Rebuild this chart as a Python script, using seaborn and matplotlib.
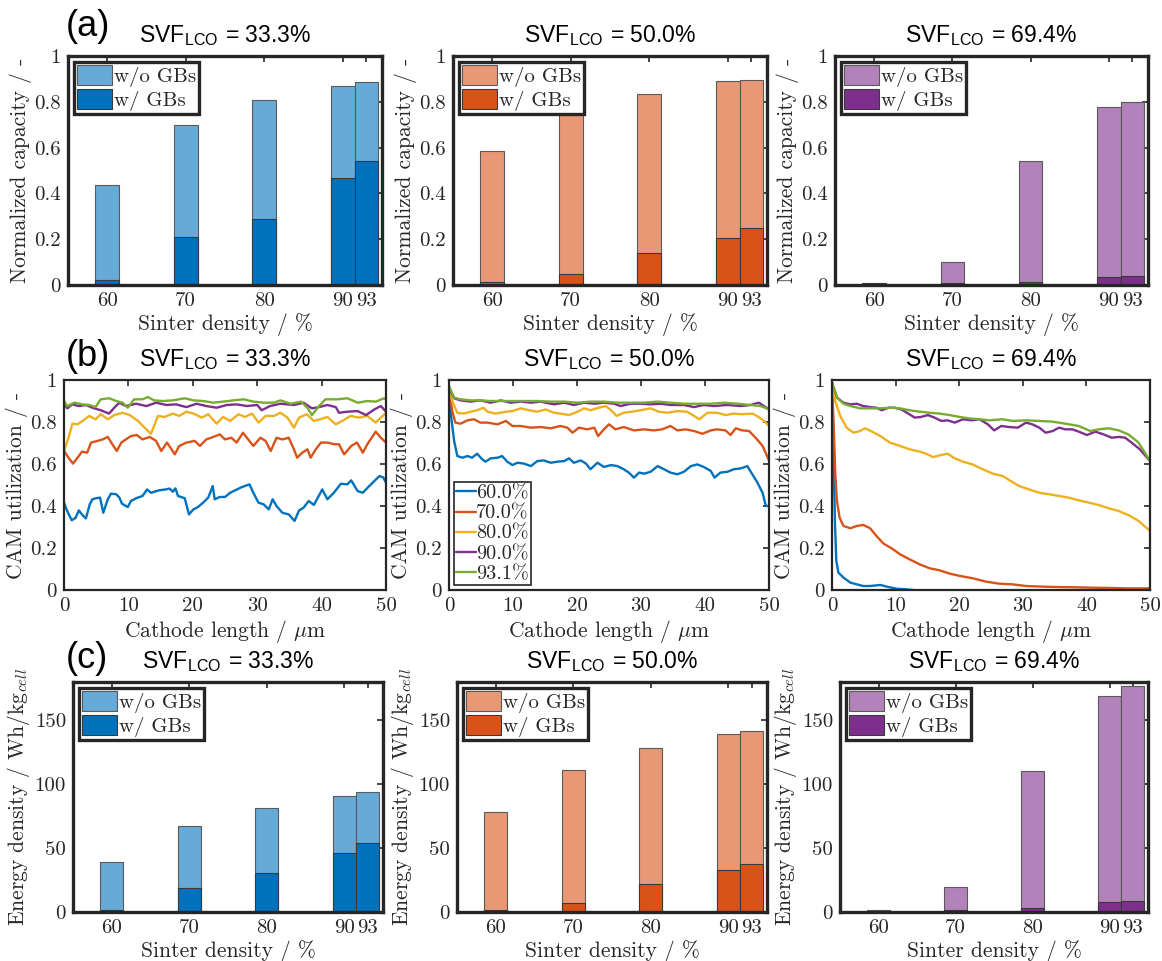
import matplotlib
matplotlib.use('Agg')
import matplotlib.pyplot as plt
import seaborn as sns
from matplotlib.patches import Patch
from matplotlib.lines import Line2D

# ---------------- data ----------------
sinter = [60, 70, 80, 90, 93]
sinter_labels = ['60', '70', '80', '90', '93']

cap_wo_333 = [0.437, 0.698, 0.810, 0.870, 0.885]
cap_w_333 = [0.024, 0.208, 0.288, 0.466, 0.540]
cap_wo_500 = [0.587, 0.762, 0.836, 0.889, 0.895]
cap_w_500 = [0.015, 0.048, 0.140, 0.206, 0.250]
cap_wo_694 = [0.005, 0.101, 0.542, 0.777, 0.801]
cap_w_694 = [0.009, 0.009, 0.015, 0.036, 0.041]

en_wo_333 = [39.0, 67.0, 81.7, 91.0, 93.6]
en_w_333 = [1.8, 18.5, 30.3, 46.4, 54.0]
en_wo_500 = [78.3, 111.0, 128.0, 139.5, 142.0]
en_w_500 = [1.8, 6.9, 21.6, 33.2, 37.2]
en_wo_694 = [1.6, 19.2, 110.2, 168.7, 176.7]
en_w_694 = [1.0, 1.8, 2.9, 7.6, 8.7]

svf_titles = ['33.3%', '50.0%', '69.4%']
line_labels = ['60.0%', '70.0%', '80.0%', '90.0%', '93.1%']

# CAM utilization profiles (x in um, y in -)
u333_x60 = [0, 0.5, 1.2, 1.8, 2.3, 3.0, 3.4, 4.0, 4.4, 5.0, 5.6, 6.1, 6.8, 7.3, 8.1, 8.6, 9.0, 9.9, 10.4, 11.2, 12.2, 12.9, 13.5, 14.8, 15.8, 16.4, 16.9, 17.3, 17.7, 18.75, 19.4, 20.1, 20.8, 21.6, 22.4, 23.1, 23.4, 24.2, 25.0, 25.8, 26.6, 27.6, 28.8, 29.4, 30.2, 31.0, 31.8, 32.4, 33.0, 33.9, 34.9, 35.8, 36.5, 37.2, 38.0, 38.8, 40.1, 40.9, 41.9, 43.0, 44.0, 44.6, 45.6, 46.4, 47.4, 48.2, 49.0, 49.6, 50.0]
u333_y60 = [0.416, 0.376, 0.332, 0.344, 0.379, 0.352, 0.341, 0.408, 0.432, 0.437, 0.440, 0.368, 0.432, 0.459, 0.456, 0.440, 0.411, 0.395, 0.424, 0.437, 0.448, 0.479, 0.463, 0.475, 0.479, 0.483, 0.468, 0.484, 0.448, 0.437, 0.360, 0.384, 0.395, 0.416, 0.440, 0.495, 0.432, 0.443, 0.443, 0.463, 0.475, 0.490, 0.503, 0.463, 0.416, 0.408, 0.384, 0.432, 0.400, 0.368, 0.360, 0.329, 0.379, 0.392, 0.424, 0.405, 0.479, 0.432, 0.463, 0.506, 0.503, 0.522, 0.471, 0.463, 0.495, 0.519, 0.543, 0.535, 0.511]
u333_x70 = [0, 0.7, 1.4, 2.1, 2.8, 3.6, 4.2, 5.2, 6.0, 6.8, 7.5, 8.2, 8.9, 9.6, 10.4, 11.3, 12.2, 13.3, 14.3, 15.1, 16.0, 16.7, 17.2, 17.9, 19.0, 20.3, 21.1, 22.1, 23.2, 24.2, 25.0, 26.0, 26.8, 27.8, 28.6, 29.4, 30.5, 31.3, 32.1, 33.0, 33.9, 34.9, 35.7, 36.2, 37.0, 37.8, 38.3, 39.1, 39.9, 40.9, 42.0, 42.7, 43.5, 44.6, 45.5, 46.4, 47.1, 48.4, 49.2, 50.0]
u333_y70 = [0.662, 0.630, 0.602, 0.630, 0.659, 0.654, 0.702, 0.710, 0.717, 0.729, 0.694, 0.662, 0.702, 0.717, 0.733, 0.738, 0.717, 0.729, 0.710, 0.662, 0.702, 0.670, 0.646, 0.686, 0.702, 0.710, 0.686, 0.717, 0.729, 0.741, 0.717, 0.725, 0.702, 0.749, 0.717, 0.686, 0.725, 0.710, 0.662, 0.725, 0.717, 0.725, 0.670, 0.630, 0.654, 0.670, 0.630, 0.670, 0.702, 0.702, 0.694, 0.694, 0.646, 0.686, 0.702, 0.654, 0.694, 0.754, 0.725, 0.702]
u333_x80 = [0, 0.7, 1.3, 2.1, 2.9, 3.9, 4.9, 5.7, 6.8, 7.8, 9.1, 10.2, 11.5, 12.5, 13.5, 14.6, 15.6, 16.9, 17.9, 19.0, 20.1, 21.4, 22.4, 23.7, 24.7, 25.8, 27.1, 28.1, 29.2, 30.2, 31.3, 32.6, 33.6, 34.7, 35.7, 36.5, 37.7, 38.8, 39.8, 40.9, 42.2, 43.2, 44.5, 45.8, 47.1, 48.4, 50.0]
u333_y80 = [0.662, 0.725, 0.792, 0.789, 0.805, 0.829, 0.813, 0.837, 0.813, 0.833, 0.844, 0.833, 0.805, 0.773, 0.744, 0.829, 0.824, 0.840, 0.829, 0.849, 0.840, 0.821, 0.837, 0.792, 0.824, 0.805, 0.837, 0.824, 0.840, 0.797, 0.829, 0.829, 0.844, 0.821, 0.773, 0.821, 0.837, 0.805, 0.813, 0.824, 0.789, 0.805, 0.829, 0.821, 0.829, 0.797, 0.844]
u333_x90 = [0, 0.5, 1.3, 2.3, 3.4, 4.4, 5.7, 7.0, 7.8, 8.6, 9.6, 11.2, 12.8, 14.3, 15.9, 17.4, 19.0, 20.6, 22.1, 23.7, 25.3, 26.8, 28.4, 30.0, 30.7, 32.0, 33.6, 35.7, 37.2, 38.5, 39.6, 40.9, 42.2, 42.7, 44.0, 45.6, 46.9, 48.2, 49.2, 50.0]
u333_y90 = [0.887, 0.865, 0.884, 0.876, 0.881, 0.868, 0.856, 0.840, 0.868, 0.892, 0.876, 0.887, 0.876, 0.892, 0.881, 0.884, 0.871, 0.887, 0.876, 0.868, 0.881, 0.884, 0.876, 0.881, 0.856, 0.876, 0.887, 0.881, 0.892, 0.865, 0.871, 0.881, 0.871, 0.844, 0.849, 0.852, 0.833, 0.860, 0.876, 0.849]
u333_x93 = [0, 0.5, 1.6, 2.9, 3.9, 4.9, 5.7, 7.0, 8.1, 9.1, 9.9, 10.9, 12.2, 13.0, 14.0, 15.4, 16.9, 18.75, 20.1, 21.6, 23.2, 24.7, 26.3, 27.9, 29.4, 31.0, 32.6, 33.6, 35.2, 36.8, 37.8, 38.5, 39.6, 40.6, 42.4, 44.0, 45.6, 47.1, 48.4, 49.7, 50.0]
u333_y93 = [0.900, 0.876, 0.892, 0.884, 0.881, 0.871, 0.908, 0.913, 0.900, 0.892, 0.868, 0.908, 0.908, 0.919, 0.903, 0.900, 0.903, 0.913, 0.903, 0.900, 0.892, 0.897, 0.903, 0.908, 0.897, 0.892, 0.892, 0.903, 0.887, 0.897, 0.868, 0.833, 0.876, 0.908, 0.908, 0.913, 0.892, 0.900, 0.897, 0.913, 0.908]

u500_x60 = [0, 0.36, 0.8, 1.3, 2.1, 2.9, 3.6, 4.4, 5.2, 5.7, 6.5, 7.6, 8.3, 9.1, 9.9, 10.7, 11.7, 12.8, 13.8, 14.8, 15.9, 16.9, 18.0, 18.75, 19.5, 20.6, 21.4, 22.1, 23.2, 24.2, 25.3, 26.3, 27.3, 28.1, 28.9, 29.7, 30.5, 31.5, 32.6, 33.6, 34.6, 35.7, 36.7, 37.8, 38.8, 39.8, 40.9, 41.5, 42.4, 43.5, 44.5, 45.6, 46.6, 47.4, 48.2, 49.0, 49.5, 50.0]
u500_y60 = [0.963, 0.820, 0.710, 0.638, 0.630, 0.638, 0.630, 0.649, 0.622, 0.611, 0.627, 0.630, 0.638, 0.611, 0.595, 0.606, 0.602, 0.590, 0.614, 0.617, 0.606, 0.611, 0.614, 0.627, 0.606, 0.617, 0.602, 0.575, 0.606, 0.586, 0.595, 0.590, 0.575, 0.559, 0.535, 0.559, 0.554, 0.563, 0.590, 0.575, 0.559, 0.551, 0.563, 0.590, 0.598, 0.586, 0.567, 0.535, 0.559, 0.563, 0.575, 0.579, 0.590, 0.551, 0.511, 0.463, 0.400, 0.400]
u500_x70 = [0, 0.5, 1.0, 1.8, 2.9, 3.9, 4.9, 6.0, 7.6, 8.9, 9.9, 11.2, 12.8, 14.3, 15.9, 17.4, 18.5, 19.3, 20.3, 21.6, 22.7, 23.3, 24.2, 25.0, 26.0, 27.3, 28.9, 30.5, 32.0, 33.3, 34.6, 35.7, 37.0, 38.3, 39.6, 40.9, 41.9, 43.2, 44.0, 44.8, 45.8, 46.9, 47.9, 49.0, 50.0]
u500_y70 = [0.963, 0.852, 0.797, 0.792, 0.808, 0.813, 0.797, 0.797, 0.789, 0.805, 0.781, 0.781, 0.773, 0.776, 0.770, 0.781, 0.773, 0.749, 0.773, 0.765, 0.773, 0.733, 0.765, 0.789, 0.765, 0.776, 0.760, 0.765, 0.760, 0.765, 0.781, 0.760, 0.765, 0.757, 0.744, 0.760, 0.765, 0.760, 0.738, 0.770, 0.760, 0.757, 0.725, 0.686, 0.617]
u500_x80 = [0, 0.5, 1.3, 2.3, 3.4, 4.4, 5.4, 6.0, 7.3, 8.9, 9.9, 11.2, 12.5, 13.8, 15.1, 16.4, 17.4, 18.75, 20.1, 21.1, 22.1, 23.4, 24.5, 25.3, 26.2, 27.3, 28.6, 29.9, 31.5, 32.8, 34.1, 35.7, 37.2, 38.3, 39.1, 40.4, 41.9, 43.2, 44.5, 45.8, 47.4, 48.4, 49.2, 50.0]
u500_y80 = [0.963, 0.900, 0.844, 0.840, 0.849, 0.856, 0.868, 0.849, 0.840, 0.849, 0.852, 0.865, 0.856, 0.849, 0.860, 0.844, 0.840, 0.833, 0.849, 0.865, 0.856, 0.868, 0.876, 0.856, 0.829, 0.844, 0.849, 0.856, 0.865, 0.849, 0.844, 0.852, 0.849, 0.829, 0.813, 0.844, 0.844, 0.833, 0.840, 0.837, 0.840, 0.824, 0.805, 0.781]
u500_x90 = [0, 0.8, 1.8, 3.4, 4.9, 6.5, 8.1, 9.6, 11.2, 12.8, 14.3, 16.4, 18.0, 19.5, 21.1, 22.7, 24.2, 25.8, 26.8, 28.4, 29.9, 31.5, 33.1, 34.6, 36.7, 38.3, 39.8, 41.4, 43.5, 45.6, 47.1, 48.4, 49.2, 50.0]
u500_y90 = [0.963, 0.913, 0.903, 0.897, 0.903, 0.892, 0.903, 0.892, 0.897, 0.892, 0.897, 0.884, 0.892, 0.881, 0.892, 0.887, 0.892, 0.887, 0.876, 0.887, 0.887, 0.884, 0.887, 0.881, 0.881, 0.871, 0.881, 0.876, 0.881, 0.876, 0.881, 0.892, 0.876, 0.860]
u500_x93 = [0, 0.8, 1.8, 3.4, 4.9, 6.5, 8.1, 9.6, 11.7, 13.8, 15.9, 18.0, 20.1, 22.1, 24.2, 26.3, 28.4, 30.5, 32.6, 34.6, 36.7, 38.8, 40.9, 43.0, 45.1, 47.1, 48.7, 50.0]
u500_y93 = [0.971, 0.916, 0.908, 0.903, 0.903, 0.900, 0.900, 0.900, 0.900, 0.900, 0.897, 0.897, 0.892, 0.897, 0.897, 0.892, 0.892, 0.892, 0.897, 0.892, 0.887, 0.887, 0.887, 0.892, 0.887, 0.881, 0.876, 0.860]

u694_x60 = [0, 0.26, 0.47, 0.68, 1.0, 1.8, 2.9, 3.9, 4.9, 6.0, 7.6, 8.9, 10.2, 11.7, 12.8]
u694_y60 = [0.987, 0.630, 0.313, 0.138, 0.083, 0.059, 0.035, 0.027, 0.019, 0.019, 0.024, 0.014, 0.006, 0.003, 0.000]
u694_x70 = [0, 0.26, 0.52, 0.78, 1.2, 1.8, 2.9, 3.9, 4.9, 6.0, 7.0, 8.1, 9.4, 10.7, 12.2, 13.8, 15.4, 16.9, 18.5, 20.1, 22.1, 24.2, 26.3, 28.4, 30.5, 33.1, 35.7, 38.3, 40.9, 43.5, 46.1, 50.0]
u694_y70 = [0.987, 0.789, 0.551, 0.424, 0.344, 0.305, 0.294, 0.305, 0.310, 0.294, 0.257, 0.221, 0.198, 0.170, 0.146, 0.122, 0.103, 0.094, 0.078, 0.067, 0.056, 0.040, 0.030, 0.027, 0.019, 0.016, 0.014, 0.013, 0.011, 0.010, 0.008, 0.008]
u694_x80 = [0, 0.5, 1.3, 2.3, 3.4, 4.4, 5.2, 6.3, 7.6, 9.1, 10.7, 12.2, 13.8, 14.8, 15.9, 17.2, 18.2, 19.3, 20.6, 22.1, 23.7, 25.3, 26.8, 28.1, 29.4, 31.0, 32.6, 34.1, 35.7, 37.2, 38.8, 40.4, 41.9, 43.5, 45.1, 46.6, 48.2, 50.0]
u694_y80 = [0.987, 0.900, 0.829, 0.773, 0.749, 0.757, 0.770, 0.754, 0.733, 0.702, 0.686, 0.670, 0.659, 0.649, 0.633, 0.643, 0.649, 0.627, 0.611, 0.598, 0.575, 0.554, 0.543, 0.519, 0.495, 0.479, 0.463, 0.456, 0.448, 0.440, 0.427, 0.416, 0.405, 0.389, 0.376, 0.357, 0.329, 0.281]
u694_x90 = [0, 0.8, 1.8, 2.9, 3.9, 4.9, 6.0, 7.0, 7.8, 8.9, 9.9, 10.9, 12.0, 13.0, 14.0, 15.1, 16.1, 17.2, 18.2, 19.3, 20.6, 21.9, 23.2, 24.5, 25.5, 26.6, 27.9, 29.2, 30.5, 31.5, 32.6, 33.6, 34.7, 35.7, 36.7, 37.8, 38.8, 40.1, 41.4, 42.7, 44.0, 45.1, 46.1, 47.1, 48.4, 50.0]
u694_y90 = [0.987, 0.916, 0.892, 0.884, 0.887, 0.876, 0.871, 0.868, 0.856, 0.868, 0.868, 0.860, 0.840, 0.821, 0.824, 0.833, 0.821, 0.805, 0.808, 0.797, 0.813, 0.808, 0.813, 0.789, 0.760, 0.781, 0.776, 0.773, 0.797, 0.789, 0.773, 0.749, 0.757, 0.773, 0.765, 0.765, 0.754, 0.738, 0.754, 0.741, 0.725, 0.729, 0.725, 0.702, 0.670, 0.614]
u694_x93 = [0, 0.8, 1.8, 2.9, 4.4, 6.0, 7.6, 9.1, 10.7, 12.2, 13.8, 15.4, 16.9, 18.5, 20.1, 21.6, 23.2, 24.7, 26.8, 28.4, 30.5, 32.6, 34.6, 36.7, 38.8, 40.6, 41.9, 43.5, 45.1, 46.6, 48.2, 50.0]
u694_y93 = [0.987, 0.916, 0.887, 0.876, 0.865, 0.865, 0.865, 0.868, 0.865, 0.856, 0.849, 0.844, 0.840, 0.833, 0.824, 0.817, 0.813, 0.808, 0.813, 0.805, 0.808, 0.805, 0.802, 0.792, 0.781, 0.757, 0.765, 0.770, 0.760, 0.741, 0.702, 0.614]

# ---------------- style ----------------
sns.set_theme(style='white')
plt.rcParams['font.family'] = ['cmr10', 'DejaVu Serif']
plt.rcParams['mathtext.fontset'] = 'cm'
plt.rcParams['axes.formatter.use_mathtext'] = True
plt.rcParams['axes.unicode_minus'] = False

TXT = '#262626'
SANS = ['Liberation Sans', 'DejaVu Sans']
dark_cols = ['#0072BD', '#D95319', '#7E2F8E']
light_cols = ['#66AAD7', '#E89875', '#B282BB']
line_cols = ['#0072BD', '#D95319', '#EDB120', '#7E2F8E', '#77AC30']

W, H = 1162, 961
fig = plt.figure(figsize=(W / 100, H / 100), dpi=100)


def add_ax(x0, y0, x1, y1):
    return fig.add_axes([x0 / W, 1 - y1 / H, (x1 - x0) / W, (y1 - y0) / H])


def style_ax(ax, lw):
    for s in ax.spines.values():
        s.set_linewidth(lw)
        s.set_color(TXT)
        s.set_visible(True)
    ax.tick_params(direction='in', top=True, right=True, length=4, width=1.2,
                   colors=TXT, labelsize=15, pad=5)
    ax.grid(False)


def title(ax, svf):
    ax.set_title('SVF$_{\\mathregular{LCO}}$ = ' + svf, fontsize=16.5,
                 family=SANS, color='black', pad=10)


def bar_panel(ax, wo, w, cl, cd, ymax, yt, ytl, ylabel):
    sns.barplot(x=sinter, y=wo, native_scale=True, width=1.0, color=cl,
                saturation=1, edgecolor='#5a5a5a', linewidth=0.8,
                errorbar=None, ax=ax)
    sns.barplot(x=sinter, y=w, native_scale=True, width=1.0, color=cd,
                saturation=1, edgecolor='#3a3a3a', linewidth=0.8,
                errorbar=None, ax=ax)
    ax.set_xlim(55, 95)
    ax.set_ylim(0, ymax)
    ax.set_xticks(sinter)
    ax.set_xticklabels(sinter_labels)
    ax.set_yticks(yt)
    ax.set_yticklabels(ytl)
    ax.set_xlabel('Sinter density / %', fontsize=15.5, color=TXT, labelpad=2)
    ax.set_ylabel(ylabel, fontsize=15.5, color=TXT, labelpad=2)
    style_ax(ax, 2.4)
    handles = [Patch(facecolor=cl, edgecolor='#5a5a5a', linewidth=0.8),
               Patch(facecolor=cd, edgecolor='#3a3a3a', linewidth=0.8)]
    leg = ax.legend(handles, ['w/o GBs', 'w/ GBs'], loc='upper left',
                    fontsize=15, frameon=True, fancybox=False,
                    borderpad=0.12, handlelength=1.7, handleheight=1.1,
                    handletextpad=0.1, labelspacing=0.12,
                    borderaxespad=0.3)
    leg.get_frame().set_edgecolor(TXT)
    leg.get_frame().set_linewidth(2.4)
    leg.get_frame().set_alpha(1)


def line_panel(ax, xs_list, ys_list, show_legend):
    for xs, ys, c, lab in zip(xs_list, ys_list, line_cols, line_labels):
        sns.lineplot(x=xs, y=ys, color=c, linewidth=1.7, estimator=None,
                     sort=False, ax=ax, label=lab, legend=False)
    ax.set_xlim(0, 50)
    ax.set_ylim(0, 1)
    ax.set_xticks([0, 10, 20, 30, 40, 50])
    ax.set_xticklabels(['0', '10', '20', '30', '40', '50'])
    ax.set_yticks([0, 0.2, 0.4, 0.6, 0.8, 1.0])
    ax.set_yticklabels(['0', '0.2', '0.4', '0.6', '0.8', '1'])
    ax.set_xlabel('Cathode length / $\\mu$m', fontsize=15.5, color=TXT, labelpad=2)
    ax.set_ylabel('CAM utilization / -', fontsize=15.5, color=TXT, labelpad=2)
    style_ax(ax, 1.6)
    if show_legend:
        handles = [Line2D([], [], color=c, lw=1.7) for c in line_cols]
        leg = ax.legend(handles, line_labels, loc='lower left', fontsize=14.5,
                        frameon=True, fancybox=False, borderpad=0.1,
                        handlelength=1.0, handletextpad=0.0,
                        labelspacing=0.1, borderaxespad=0.25)
        leg.get_frame().set_edgecolor(TXT)
        leg.get_frame().set_linewidth(1.2)
        leg.get_frame().set_alpha(1)


# ---------------- row (a) ----------------
cap_yt = [0, 0.2, 0.4, 0.6, 0.8, 1.0]
cap_ytl = ['0', '0.2', '0.4', '0.6', '0.8', '1']
row_a = [(68, 56, 382, 285), (453, 56, 767, 285), (835, 56, 1148, 285)]
caps = [(cap_wo_333, cap_w_333), (cap_wo_500, cap_w_500), (cap_wo_694, cap_w_694)]
for i, (pos, (wo, w)) in enumerate(zip(row_a, caps)):
    ax = add_ax(*pos)
    bar_panel(ax, wo, w, light_cols[i], dark_cols[i], 1.0, cap_yt, cap_ytl,
              'Normalized capacity / -')
    title(ax, svf_titles[i])

# ---------------- row (b) ----------------
row_b = [(64, 380, 386, 590), (449, 380, 769, 590), (832, 380, 1150, 590)]
util_x = [[u333_x60, u333_x70, u333_x80, u333_x90, u333_x93],
          [u500_x60, u500_x70, u500_x80, u500_x90, u500_x93],
          [u694_x60, u694_x70, u694_x80, u694_x90, u694_x93]]
util_y = [[u333_y60, u333_y70, u333_y80, u333_y90, u333_y93],
          [u500_y60, u500_y70, u500_y80, u500_y90, u500_y93],
          [u694_y60, u694_y70, u694_y80, u694_y90, u694_y93]]
for i, pos in enumerate(row_b):
    ax = add_ax(*pos)
    line_panel(ax, util_x[i], util_y[i], i == 1)
    title(ax, svf_titles[i])

# ---------------- row (c) ----------------
row_c = [(73, 682, 383, 912), (457, 682, 767, 912), (840, 682, 1148, 912)]
ens = [(en_wo_333, en_w_333), (en_wo_500, en_w_500), (en_wo_694, en_w_694)]
for i, (pos, (wo, w)) in enumerate(zip(row_c, ens)):
    ax = add_ax(*pos)
    bar_panel(ax, wo, w, light_cols[i], dark_cols[i], 180, [0, 50, 100, 150],
              ['0', '50', '100', '150'], 'Energy density / Wh/kg$_{cell}$')
    title(ax, svf_titles[i])

# panel letters
for lab, ypix in [('(a)', 27), ('(b)', 357), ('(c)', 659)]:
    fig.text(66 / W, 1 - ypix / H, lab, fontsize=26, family=SANS,
             color='black', va='center', ha='left')

fig.savefig('out.png', dpi=100)
